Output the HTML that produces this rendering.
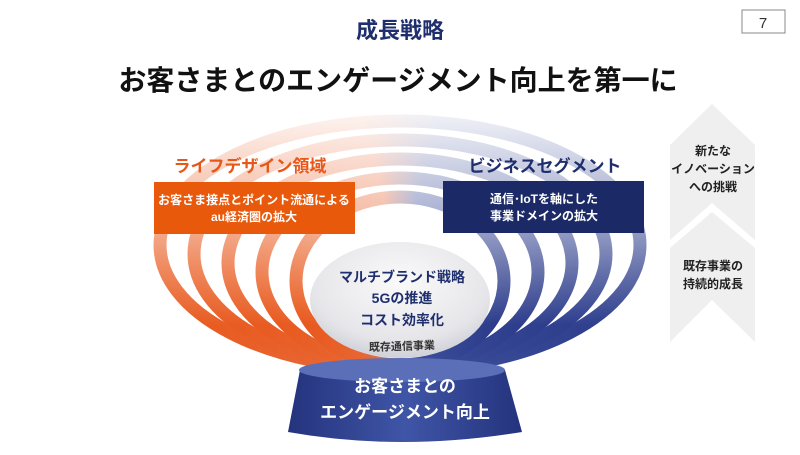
<!DOCTYPE html>
<html><head><meta charset="utf-8"><style>
body{margin:0;width:800px;height:450px;background:#fff;overflow:hidden;font-family:"Liberation Sans","Noto Sans CJK JP",sans-serif;}
</style></head><body>
<svg width="800" height="450" viewBox="0 0 800 450" xmlns="http://www.w3.org/2000/svg" font-family="Liberation Sans, Noto Sans CJK JP, sans-serif">
<defs>
<linearGradient id="h" x1="0" x2="1" y1="0" y2="0">
<stop offset="0" stop-color="#e8571a"/><stop offset="0.42" stop-color="#e86a3a"/>
<stop offset="0.58" stop-color="#3d4f9a"/><stop offset="1" stop-color="#2a3a8a"/></linearGradient>
<linearGradient id="fade" x1="0" x2="0" y1="0" y2="1">
<stop offset="0" stop-color="#fff" stop-opacity="0.03"/><stop offset="0.4" stop-color="#fff" stop-opacity="0.45"/><stop offset="0.75" stop-color="#fff" stop-opacity="1"/></linearGradient>
<mask id="m"><rect x="0" y="100" width="800" height="300" fill="url(#fade)"/></mask>
<radialGradient id="disc" cx="0.5" cy="0.35" r="0.7"><stop offset="0" stop-color="#fafafa"/><stop offset="0.7" stop-color="#e6e6ea"/><stop offset="1" stop-color="#c9cad2"/></radialGradient>
<linearGradient id="base" x1="0" x2="1"><stop offset="0" stop-color="#24337d"/><stop offset="0.5" stop-color="#3f55a6"/><stop offset="1" stop-color="#24337d"/></linearGradient>
</defs>
<rect x="742" y="10" width="43" height="23" fill="#fff" stroke="#888"/>
<text x="763" y="28" font-size="15" text-anchor="middle" fill="#333">7</text>
<text x="400" y="38" font-size="22" font-weight="bold" text-anchor="middle" fill="#1f2f6e">成長戦略</text>
<text x="398" y="90" font-size="28" font-weight="bold" text-anchor="middle" fill="#111">お客さまとのエンゲージメント向上を第一に</text>
<g mask="url(#m)" fill="none" stroke="url(#h)" stroke-width="13">
<ellipse cx="400" cy="245" rx="240" ry="124"/>
<ellipse cx="400" cy="254" rx="206" ry="114"/>
<ellipse cx="400" cy="263" rx="172" ry="104"/>
<ellipse cx="400" cy="272" rx="138" ry="94"/>
<ellipse cx="400" cy="281" rx="104" ry="84"/>
</g>
<ellipse cx="400" cy="300" rx="90" ry="58" fill="url(#disc)"/>
<path d="M300 370 L288 432 Q400 452 522 432 L505 370 Z" fill="url(#base)"/>
<ellipse cx="402" cy="370" rx="103" ry="12" fill="#5a6fb8"/>
<text x="405" y="392" font-size="17" font-weight="bold" text-anchor="middle" fill="#fff">お客さまとの</text>
<text x="405" y="418" font-size="17" font-weight="bold" text-anchor="middle" fill="#fff">エンゲージメント向上</text>
<text x="402" y="350" font-size="11" font-weight="bold" text-anchor="middle" fill="#333" transform="rotate(-2 402 350)">既存通信事業</text>
<text x="402" y="282" font-size="14" font-weight="bold" text-anchor="middle" fill="#1f2f6e">マルチブランド戦略</text>
<text x="402" y="303" font-size="14" font-weight="bold" text-anchor="middle" fill="#1f2f6e">5Gの推進</text>
<text x="402" y="325" font-size="14" font-weight="bold" text-anchor="middle" fill="#1f2f6e">コスト効率化</text>
<text x="250" y="172" font-size="17" font-weight="bold" text-anchor="middle" fill="#e8571a">ライフデザイン領域</text>
<text x="545" y="172" font-size="17" font-weight="bold" text-anchor="middle" fill="#1f2f6e">ビジネスセグメント</text>
<rect x="154" y="182" width="201" height="52" fill="#e8590c"/>
<rect x="443" y="181" width="201" height="52" fill="#1b2a66"/>
<text x="254" y="204" font-size="12" font-weight="bold" text-anchor="middle" fill="#fff">お客さま接点とポイント流通による</text>
<text x="254" y="221" font-size="12" font-weight="bold" text-anchor="middle" fill="#fff">au経済圏の拡大</text>
<text x="544" y="203" font-size="12" font-weight="bold" text-anchor="middle" fill="#fff">通信･IoTを軸にした</text>
<text x="544" y="220" font-size="12" font-weight="bold" text-anchor="middle" fill="#fff">事業ドメインの拡大</text>
<path d="M712 104 L755 145 L755 240 L712 203 L670 240 L670 145 Z" fill="#efefef"/>
<path d="M712 212 L755 248 L755 342 L712 300 L670 342 L670 248 Z" fill="#efefef"/>
<g font-size="12" font-weight="bold" text-anchor="middle" fill="#222">
<text x="713" y="155">新たな</text>
<text x="713" y="173">イノベーション</text>
<text x="713" y="191">への挑戦</text>
<text x="713" y="270">既存事業の</text>
<text x="713" y="288">持続的成長</text>
</g>
</svg>
</body></html>
